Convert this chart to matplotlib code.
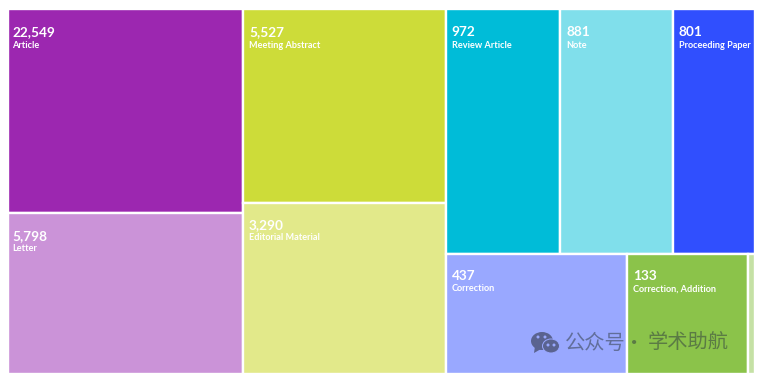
"""Treemap of publication types. Tile sizes in the picture are not proportional
to the counts, so the tile shares are read off separately and laid out by
slice-and-dice below."""
import matplotlib
matplotlib.use("Agg")
import matplotlib.pyplot as plt
from matplotlib.patches import Rectangle, Ellipse, Polygon
from matplotlib.transforms import IdentityTransform

W, H = 763, 386

names = ["Article", "Letter", "Meeting Abstract", "Editorial Material", "Review Article",
         "Note", "Proceeding Paper", "Correction", "Correction, Addition", ""]
counts = ["22,549", "5,798", "5,527", "3,290", "972", "881", "801", "437", "133", ""]
# share of the chart's area per tile (%)
shares = [17.60, 13.87, 14.38, 12.74, 10.30, 10.08, 7.38, 8.01, 5.32, 0.32]
colors = ["#9C27B0", "#CB93D8", "#CDDC39", "#E2E98A", "#00BCD8",
          "#80DFEB", "#304FFE", "#99A8FF", "#8BC34A", "#C5E1A5"]

# column -> rows -> tile indexes
LAYOUT = [[[0], [1]], [[2], [3]], [[4, 5, 6], [7, 8, 9]]]

plt.rcParams["font.family"] = ["Lato", "DejaVu Sans"]
fig = plt.figure(figsize=(W / 100, H / 100), dpi=100, facecolor="white")
# one pixel wider than the visible block: the outer white edges fall outside the axes
ax = fig.add_axes([8 / W, 1 - 374 / H, 747 / W, 365 / H])
ax.set_xlim(0, 1); ax.set_ylim(1, 0); ax.axis("off")

total = sum(shares)
x = 0
for column in LAYOUT:
    col_sum = sum(shares[i] for row in column for i in row)
    col_w = col_sum / total
    y = 0
    for row in column:
        row_sum = sum(shares[i] for i in row)
        row_h = row_sum / col_sum
        cx = x
        for i in row:
            w = col_w * shares[i] / row_sum
            ax.add_patch(Rectangle((cx, y), w, row_h, facecolor=colors[i], edgecolor="white", lw=1.7))
            # first column is cropped on the left in the source, so its text sits closer
            pad = 4 if cx == 0 else 6
            top = 1 if y == 0 else 0
            ax.annotate(counts[i], (cx, y), xytext=(pad, -22.5 - top), textcoords="offset pixels", color="white",
                        fontsize=9.8, fontweight="bold", va="center", ha="left", annotation_clip=False)
            ax.annotate(names[i], (cx, y), xytext=(pad, -35 - top), textcoords="offset pixels", color="white",
                        fontsize=6.6, fontweight="bold", va="center", ha="left", annotation_clip=False)
            cx += w
        y += row_h
    x += col_w

# watermark, pixel coordinates with y measured from the top
INK = "#5a6390"
BG = "#99A8FF"
tr = IdentityTransform()
def px(a, b):
    return (a, H - b)
fig.patches.append(Ellipse(px(542, 341), 22, 18, fc=INK, ec="none", transform=tr))
fig.patches.append(Polygon([px(535, 346), px(534, 353), px(541, 349)], fc=INK, ec="none", transform=tr))
fig.patches.append(Ellipse(px(551, 346), 17, 14, fc=INK, ec=BG, lw=0.7, transform=tr))
for ex, ey in [(538, 337), (545, 337), (548, 345), (554, 345)]:
    fig.patches.append(Ellipse(px(ex, ey), 3, 3, fc=BG, ec="none", transform=tr))
cjk = ["Noto Sans CJK SC", "DejaVu Sans"]
for tx, piece in [(565, "公众号"), (624, "·"), (648, "学术助航")]:
    fig.text(tx / W, 1 - 343 / H, piece, color="#2f3a40", alpha=0.52, fontsize=14.6,
             family=cjk, va="center", ha="left")

fig.savefig("out.png", dpi=100, facecolor="white")
